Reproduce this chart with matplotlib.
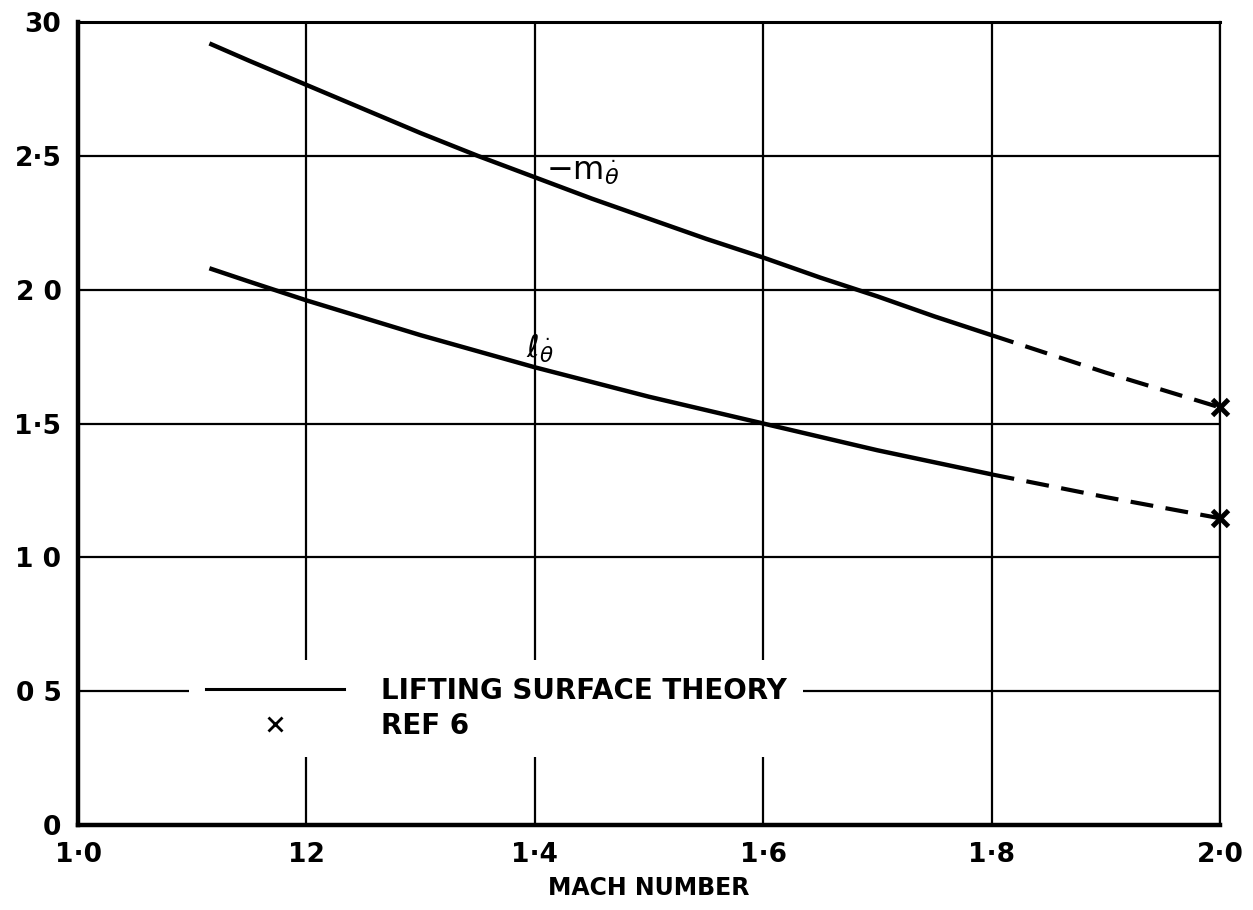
import matplotlib
matplotlib.use("Agg")
from matplotlib import pyplot as plt
from matplotlib.lines import Line2D

# damping derivatives against Mach number
mach = [1.115, 1.15, 1.2, 1.25, 1.3, 1.35, 1.4, 1.45, 1.5,
        1.55, 1.6, 1.65, 1.7, 1.75, 1.8]
m_theta = [2.92, 2.855, 2.765, 2.675, 2.585, 2.50, 2.42, 2.34, 2.265,
           2.19, 2.12, 2.045, 1.975, 1.90, 1.83]
l_theta = [2.08, 2.03, 1.96, 1.895, 1.83, 1.77, 1.71, 1.655, 1.60,
           1.55, 1.50, 1.45, 1.40, 1.355, 1.31]

# extrapolated part up to M = 2
mach_ext = [1.8, 1.9, 2.0]
m_theta_ext = [1.83, 1.69, 1.56]
l_theta_ext = [1.31, 1.225, 1.146]

# ref 6 points
ref_mach = [2.0, 2.0]
ref_vals = [1.56, 1.146]

xticks = [1.0, 1.2, 1.4, 1.6, 1.8, 2.0]
xlabels = ["1·0", "12", "1·4", "1·6", "1·8", "2·0"]
yticks = [0, 0.5, 1.0, 1.5, 2.0, 2.5, 3.0]
ylabels = ["0", "0 5", "1 0", "1·5", "2 0", "2·5", "30"]

plt.rcParams['font.family'] = ['DejaVu Sans']

fig = plt.figure(figsize=(12.53, 9.10), dpi=100)
ax = fig.add_axes([0.0623, 0.0934, 0.9114, 0.8824])

ax.plot(mach, m_theta, 'k', lw=3.2, solid_capstyle='butt', zorder=3)
ax.plot(mach, l_theta, 'k', lw=3.2, solid_capstyle='butt', zorder=3)
ax.plot(mach_ext, m_theta_ext, 'k', lw=3.0, dashes=(5.5, 3), zorder=3)
ax.plot(mach_ext, l_theta_ext, 'k', lw=3.0, dashes=(5.5, 3), zorder=3)
ax.plot(ref_mach, ref_vals, 'kx', ms=12, mew=3.5, clip_on=False, zorder=4)

ax.text(1.41, 2.44, r'$-\mathrm{m}_{\dot{\theta}}$', fontsize=23,
        va='center', ha='left')
ax.text(1.392, 1.78, r'$\ell_{\dot{\theta}}$', fontsize=22,
        va='center', ha='left')

ax.set_xlim(1.0, 2.0)
ax.set_ylim(0, 3.0)
ax.set_xticks(xticks)
ax.set_xticklabels(xlabels)
ax.set_yticks(yticks)
ax.set_yticklabels(ylabels)
ax.tick_params(length=0, labelsize=19, pad=12)
for lab in ax.get_xticklabels() + ax.get_yticklabels():
    lab.set_fontweight('bold')
ax.grid(True, color='k', lw=1.6)
ax.set_axisbelow(True)

ax.spines['left'].set_linewidth(3.2)
ax.spines['bottom'].set_linewidth(3.2)
ax.spines['top'].set_linewidth(2.2)
ax.spines['right'].set_linewidth(1.6)

ax.set_xlabel("MACH NUMBER", fontsize=17, fontweight='bold', labelpad=6)

handles = [Line2D([], [], color='k', lw=2.2),
           Line2D([], [], color='k', marker='x', ls='none', ms=10, mew=2)]
leg = ax.legend(handles, ["LIFTING SURFACE THEORY", "REF 6"],
                loc='upper left', bbox_to_anchor=(0.097, 0.205),
                fontsize=20, handlelength=5.0, handletextpad=1.3,
                labelspacing=0.25, borderpad=0.6, borderaxespad=0,
                frameon=True, fancybox=False)
leg.get_frame().set_facecolor('white')
leg.get_frame().set_edgecolor('none')
leg.get_frame().set_alpha(1)
for t in leg.get_texts():
    t.set_fontweight('bold')

fig.savefig("out.png", dpi=100)
